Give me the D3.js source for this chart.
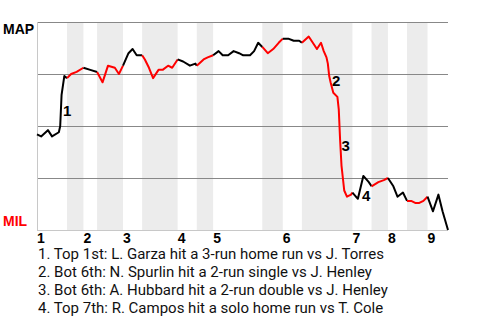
<!DOCTYPE html>
<html>
<head>
	<title>Win Probability</title>
	<style type="text/css">

body {
	margin:0;
	background:#fff;
}

.band {
	fill:#ececec;
}

.grid {
	stroke:#888;
	stroke-width:1px;
	shape-rendering:crispEdges;
}

.edge {
	stroke:#c8c8c8;
	stroke-width:1px;
	shape-rendering:crispEdges;
}

.wp {
	fill:none;
	stroke-width:2px;
	stroke-linejoin:round;
}

.team, .inning, .event {
	font-family:"Liberation Sans", Arial, sans-serif;
	font-weight:bold;
	font-size:14px;
}

.event {
	font-size:15px;
}

.note {
	font-family:Roboto, sans-serif;
	font-size:15px;
	fill:#111;
}

	</style>
</head>
<body>

<div id="chart"></div>

<script type="text/javascript" src="https://cdn.jsdelivr.net/npm/d3@7/dist/d3.min.js"></script>
<script type="text/javascript">

// pitches thrown in each half inning (top 1, bot 1, top 2 ...)
var halfPitches = [22,12,10,19,14,26,14,12,36,15,14,37,14,12,14,15,15];
var innings = ["1","2","3","4","5","6","7","8","9"];
var teams = ["MAP","MIL"];

// MAP win probability (%) at pitch number
var pitchNo = [0,3,8,11,16,17,18,20,22,25,29,34,39,44,48,52,57,60,63,67,70,73,77,79,82,85,89,92,96,99,
	103,107,112,116,117,122,125,129,133,136,140,144,148,151,156,159,162,165,169,173,177,180,184,188,192,
	194,199,202,205,208,210,212,213,214,215,217,220,221,222,223,224,225,227,230,231,235,239,243,245,250,
	254,257,261,264,268,271,274,277,280,283,286,290,294,297,301];
var mapWin = [46,45,48,45,47,50,65,74,73,75,76,78,77,76,71,79,78,75,79,85,87,84,84,82,78,73,77,77,79,78,
	82,81,79,80,79,82,83,84,86,84,84,86,85,84,84,86,90,88,85,87,90,92,92,91,91,
	90,93,90,87,90,86,83,80,74,71,66,64,58,43,31,25,19,16,17,18,15,26,23,21,23,
	24,25,21,16,18,14,14,13,13,14,16,9,17,9,0];

var eventPitch = [19,216,223,238];
var eventWin = [55,69,38,14];
var notes = ["1. Top 1st: L. Garza hit a 3-run home run vs J. Torres",
			"2. Bot 6th: N. Spurlin hit a 2-run single vs J. Henley",
			"3. Bot 6th: A. Hubbard hit a 2-run double vs J. Henley",
			"4. Top 7th: R. Campos hit a solo home run vs T. Cole"];

var width = 480, height = 320;
var plot = {left:37, right:448, top:22, bottom:230};

var bounds = [0];
halfPitches.forEach(function(n){ bounds.push(bounds[bounds.length-1] + n); });

var x = d3.scaleLinear()
			.domain([0, bounds[bounds.length-1]])
			.range([plot.left, plot.right]);

var y = d3.scaleLinear()
			.domain([0,100])
			.range([plot.bottom, plot.top]);

var svg = d3.select("#chart").append("svg")
			.attr("width",width)
			.attr("height",height);

// bottom halves shaded
var halves = d3.range(halfPitches.length).map(function(i){
	return {i:i, start:bounds[i], end:bounds[i+1]};
});

svg.selectAll(".band")
	.data(halves.filter(function(d){ return d.i % 2 == 1; }))
	.enter().append("rect")
	.attr("class","band")
	.attr("x",function(d){ return x(d.start); })
	.attr("width",function(d){ return x(d.end) - x(d.start); })
	.attr("y",y(100))
	.attr("height",y(0) - y(100));

svg.selectAll(".grid")
	.data([25,50,75,100])
	.enter().append("line")
	.attr("class","grid")
	.attr("x1",plot.left)
	.attr("x2",plot.right)
	.attr("y1",function(d){ return y(d); })
	.attr("y2",function(d){ return y(d); });

svg.append("line")
	.attr("class","edge")
	.attr("x1",plot.left).attr("x2",plot.right)
	.attr("y1",y(0)).attr("y2",y(0));

svg.append("line")
	.attr("class","edge")
	.attr("x1",plot.left).attr("x2",plot.left)
	.attr("y1",y(100)).attr("y2",y(0));

// split the line into runs by which team is batting
var points = pitchNo.map(function(p,i){ return [p, mapWin[i]]; });
var runs = [];
for (var i = 0; i < points.length-1; i++){
	var mid = (points[i][0] + points[i+1][0]) / 2;
	var h = d3.bisectRight(bounds, mid) - 1;
	var home = (h % 2 == 1);
	var last = runs[runs.length-1];
	if (last && last.home == home){
		last.pts.push(points[i+1]);
	} else {
		runs.push({home:home, pts:[points[i], points[i+1]]});
	}
}

var line = d3.line()
			.x(function(d){ return x(d[0]); })
			.y(function(d){ return y(d[1]); });

svg.selectAll(".wp")
	.data(runs)
	.enter().append("path")
	.attr("class","wp")
	.attr("stroke",function(d){ return d.home ? "#f00" : "#000"; })
	.attr("d",function(d){ return line(d.pts); });

svg.selectAll(".event")
	.data(eventPitch)
	.enter().append("text")
	.attr("class","event")
	.attr("x",function(d){ return x(d); })
	.attr("y",function(d,i){ return y(eventWin[i]); })
	.text(function(d,i){ return i+1; });

svg.append("text")
	.attr("class","team")
	.attr("x",3)
	.attr("y",y(100)+12)
	.text(teams[0]);

svg.append("text")
	.attr("class","team")
	.attr("x",3)
	.attr("y",y(0)-4)
	.attr("fill","#f00")
	.text(teams[1]);

svg.selectAll(".inning")
	.data(innings)
	.enter().append("text")
	.attr("class","inning")
	.attr("x",function(d,i){ return x(bounds[i*2]); })
	.attr("y",y(0)+13)
	.text(String);

svg.selectAll(".note")
	.data(notes)
	.enter().append("text")
	.attr("class","note")
	.attr("x",plot.left+1)
	.attr("y",function(d,i){ return 259 + i*18; })
	.text(String);

</script>
</body>
</html>
